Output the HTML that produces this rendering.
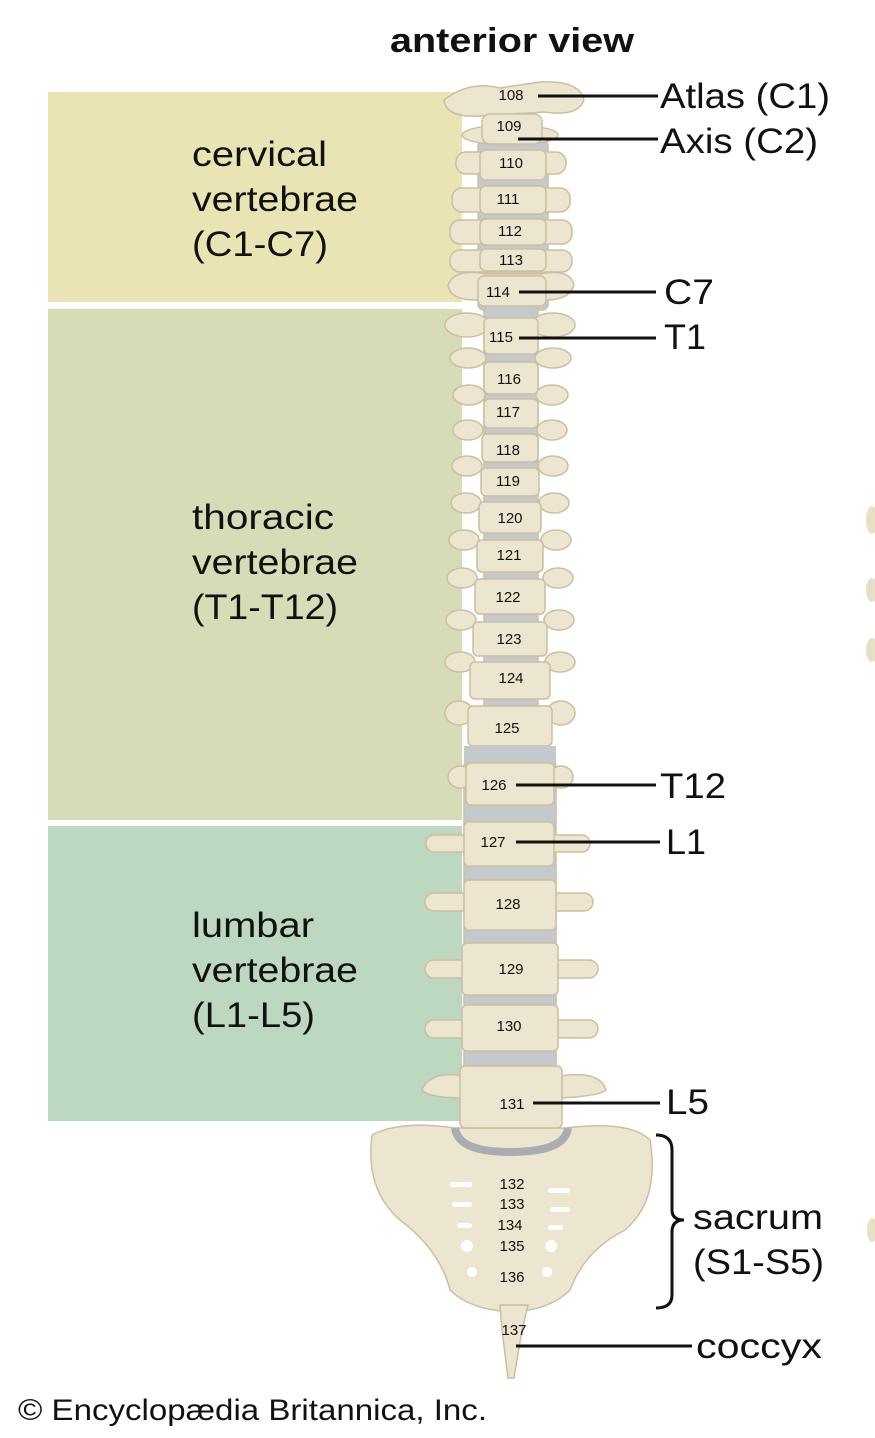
<!DOCTYPE html>
<html><head><meta charset="utf-8"><style>
html,body{margin:0;padding:0;background:#fff;}
svg{display:block;}
text{font-family:"Liberation Sans",sans-serif;}
</style></head><body>
<svg width="875" height="1438" viewBox="0 0 875 1438" xmlns="http://www.w3.org/2000/svg">
<rect x="48" y="92" width="414" height="210" fill="#e8e4b3"/>
<rect x="48" y="309" width="414" height="511" fill="#d5dcb6"/>
<rect x="48" y="826" width="414" height="295" fill="#bdd8c0"/>
<text x="390" y="52" font-size="34" font-weight="bold" textLength="244" lengthAdjust="spacingAndGlyphs" fill="#111">anterior view</text>
<g font-size="35" fill="#111">
<text x="192" y="166" textLength="135" lengthAdjust="spacingAndGlyphs">cervical</text><text x="192" y="211" textLength="166" lengthAdjust="spacingAndGlyphs">vertebrae</text><text x="192" y="256" textLength="136" lengthAdjust="spacingAndGlyphs">(C1-C7)</text>
<text x="192" y="529" textLength="142" lengthAdjust="spacingAndGlyphs">thoracic</text><text x="192" y="574" textLength="166" lengthAdjust="spacingAndGlyphs">vertebrae</text><text x="192" y="619" textLength="146" lengthAdjust="spacingAndGlyphs">(T1-T12)</text>
<text x="192" y="937" textLength="122" lengthAdjust="spacingAndGlyphs">lumbar</text><text x="192" y="982" textLength="166" lengthAdjust="spacingAndGlyphs">vertebrae</text><text x="192" y="1027" textLength="123" lengthAdjust="spacingAndGlyphs">(L1-L5)</text>
<text x="660" y="108" textLength="170" lengthAdjust="spacingAndGlyphs">Atlas (C1)</text><text x="660" y="153" textLength="158" lengthAdjust="spacingAndGlyphs">Axis (C2)</text>
<text x="664" y="304" textLength="50" lengthAdjust="spacingAndGlyphs">C7</text><text x="664" y="349" textLength="42" lengthAdjust="spacingAndGlyphs">T1</text>
<text x="660" y="798" textLength="66" lengthAdjust="spacingAndGlyphs">T12</text><text x="666" y="854" textLength="40" lengthAdjust="spacingAndGlyphs">L1</text><text x="666" y="1114" textLength="43" lengthAdjust="spacingAndGlyphs">L5</text>
<text x="693" y="1229" textLength="130" lengthAdjust="spacingAndGlyphs">sacrum</text><text x="693" y="1274" textLength="131" lengthAdjust="spacingAndGlyphs">(S1-S5)</text>
<text x="696" y="1358" textLength="126" lengthAdjust="spacingAndGlyphs">coccyx</text>
<text x="18" y="1420" font-size="30" textLength="469" lengthAdjust="spacingAndGlyphs">© Encyclopædia Britannica, Inc.</text>
</g>
<g fill="#ece5cf" stroke="#cbbf9f" stroke-width="1.5">
<rect x="478" y="140" width="70" height="170" rx="6" fill="#c4c9cd"/>
<rect x="484" y="305" width="54" height="470" rx="6" fill="#c4c9cd"/>
<rect x="464" y="760" width="92" height="360" rx="6" fill="#c4c9cd"/>
<path d="M444 100 Q470 80 500 88 L540 82 Q580 80 584 100 Q578 117 545 112 L480 116 Q446 118 444 100Z"/>
<ellipse cx="510" cy="135" rx="48" ry="10"/>
<rect x="456" y="152" width="110" height="22" rx="10"/>
<rect x="452" y="188" width="118" height="24" rx="10"/>
<rect x="450" y="220" width="122" height="24" rx="10"/>
<rect x="450" y="250" width="122" height="22" rx="10"/>
<path d="M448 285 Q455 268 485 274 L540 274 Q570 268 574 285 Q570 300 545 300 L475 300 Q450 300 448 285Z"/>
<ellipse cx="467" cy="325" rx="22" ry="12"/><ellipse cx="553" cy="325" rx="22" ry="12"/>
<ellipse cx="468" cy="358" rx="18" ry="10"/><ellipse cx="553" cy="358" rx="18" ry="10"/>
<ellipse cx="469" cy="395" rx="16" ry="10"/><ellipse cx="552" cy="395" rx="16" ry="10"/>
<ellipse cx="468" cy="430" rx="15" ry="10"/><ellipse cx="552" cy="430" rx="15" ry="10"/>
<ellipse cx="467" cy="466" rx="15" ry="10"/><ellipse cx="553" cy="466" rx="15" ry="10"/>
<ellipse cx="466" cy="503" rx="15" ry="10"/><ellipse cx="554" cy="503" rx="15" ry="10"/>
<ellipse cx="464" cy="540" rx="15" ry="10"/><ellipse cx="556" cy="540" rx="15" ry="10"/>
<ellipse cx="462" cy="578" rx="15" ry="10"/><ellipse cx="558" cy="578" rx="15" ry="10"/>
<ellipse cx="461" cy="620" rx="15" ry="10"/><ellipse cx="559" cy="620" rx="15" ry="10"/>
<ellipse cx="460" cy="662" rx="15" ry="10"/><ellipse cx="560" cy="662" rx="15" ry="10"/>
<ellipse cx="459" cy="713" rx="14" ry="12"/><ellipse cx="561" cy="713" rx="14" ry="12"/>
<ellipse cx="460" cy="777" rx="12" ry="11"/><ellipse cx="561" cy="777" rx="12" ry="11"/>
<rect x="426" y="835" width="50" height="17" rx="8"/><rect x="545" y="835" width="45" height="17" rx="8"/>
<rect x="425" y="893" width="50" height="18" rx="9"/><rect x="545" y="893" width="48" height="18" rx="9"/>
<rect x="425" y="960" width="45" height="18" rx="9"/><rect x="550" y="960" width="48" height="18" rx="9"/>
<rect x="425" y="1020" width="45" height="18" rx="9"/><rect x="550" y="1020" width="48" height="18" rx="9"/>
<path d="M422 1090 Q430 1070 465 1076 L560 1076 Q600 1070 606 1090 Q600 1096 560 1098 L465 1098 Q428 1098 422 1090Z"/>
<path d="M372 1135 Q400 1120 455 1128 L565 1128 Q630 1120 650 1140 Q660 1200 625 1230 Q585 1250 570 1290 Q550 1310 512 1312 Q470 1310 450 1290 Q440 1250 400 1220 Q365 1190 372 1135Z"/>
<path d="M500 1305 L528 1305 L522 1330 L514 1378 L508 1378 L502 1330Z"/>
<rect x="482" y="114" width="60" height="30" rx="8"/>
<rect x="480" y="150" width="66" height="30" rx="6"/>
<rect x="480" y="186" width="66" height="28" rx="6"/>
<rect x="480" y="219" width="66" height="26" rx="6"/>
<rect x="480" y="249" width="66" height="22" rx="6"/>
<rect x="478" y="276" width="68" height="30" rx="6"/>
<rect x="484" y="318" width="54" height="36" rx="5"/>
<rect x="484" y="362" width="54" height="32" rx="5"/>
<rect x="484" y="399" width="54" height="29" rx="5"/>
<rect x="482" y="434" width="56" height="28" rx="5"/>
<rect x="481" y="468" width="58" height="28" rx="5"/>
<rect x="479" y="502" width="62" height="31" rx="5"/>
<rect x="477" y="540" width="66" height="32" rx="5"/>
<rect x="475" y="579" width="70" height="35" rx="5"/>
<rect x="473" y="622" width="74" height="34" rx="5"/>
<rect x="470" y="662" width="80" height="37" rx="5"/>
<rect x="468" y="706" width="84" height="40" rx="5"/>
<rect x="466" y="763" width="88" height="42" rx="5"/>
<rect x="464" y="822" width="90" height="44" rx="5"/>
<rect x="464" y="880" width="92" height="50" rx="5"/>
<rect x="462" y="943" width="96" height="52" rx="5"/>
<rect x="462" y="1005" width="96" height="46" rx="5"/>
<rect x="460" y="1066" width="102" height="62" rx="5"/>
</g>
<path d="M455 1128 Q458 1152 510 1152 Q565 1152 568 1128" fill="none" stroke="#a8adb2" stroke-width="8"/>
<path d="M464 746 L556 746 L556 762 L464 762Z" fill="#c4c9cd"/>
<g fill="#fff">
<rect x="450" y="1182" width="22" height="5" rx="2.5"/><rect x="548" y="1188" width="22" height="5" rx="2.5"/>
<rect x="452" y="1202" width="20" height="5" rx="2.5"/><rect x="550" y="1207" width="20" height="5" rx="2.5"/>
<rect x="457" y="1223" width="15" height="5" rx="2.5"/><rect x="548" y="1225" width="15" height="5" rx="2.5"/>
<circle cx="467" cy="1246" r="6"/><circle cx="551" cy="1246" r="6"/>
<circle cx="472" cy="1272" r="5"/><circle cx="547" cy="1272" r="5"/>
</g>
<g fill="#e8e0c6"><ellipse cx="872" cy="520" rx="6" ry="14"/><ellipse cx="872" cy="590" rx="6" ry="12"/><ellipse cx="872" cy="650" rx="6" ry="12"/><ellipse cx="872" cy="1230" rx="5" ry="12"/></g>
<g font-size="15" fill="#111" text-anchor="middle">
<text x="511" y="100">108</text><text x="509" y="131">109</text><text x="511" y="168">110</text>
<text x="508" y="204">111</text><text x="510" y="236">112</text><text x="511" y="265">113</text>
<text x="498" y="297">114</text><text x="501" y="342">115</text><text x="509" y="384">116</text>
<text x="508" y="417">117</text><text x="508" y="455">118</text><text x="508" y="486">119</text>
<text x="510" y="523">120</text><text x="509" y="560">121</text><text x="508" y="602">122</text>
<text x="509" y="644">123</text><text x="511" y="683">124</text><text x="507" y="733">125</text>
<text x="494" y="790">126</text><text x="493" y="847">127</text><text x="508" y="909">128</text>
<text x="511" y="974">129</text><text x="509" y="1031">130</text><text x="512" y="1109">131</text>
<text x="512" y="1189">132</text><text x="512" y="1209">133</text><text x="510" y="1230">134</text>
<text x="512" y="1251">135</text><text x="512" y="1282">136</text><text x="514" y="1335">137</text>
</g>
<g stroke="#111" stroke-width="3" fill="none">
<line x1="538" y1="96" x2="658" y2="96"/>
<line x1="518" y1="139" x2="658" y2="139"/>
<line x1="519" y1="292" x2="656" y2="292"/>
<line x1="519" y1="338" x2="656" y2="338"/>
<line x1="516" y1="785" x2="656" y2="785"/>
<line x1="516" y1="842" x2="660" y2="842"/>
<line x1="533" y1="1103" x2="660" y2="1103"/>
<line x1="516" y1="1346" x2="692" y2="1346"/>
<path d="M656 1135 Q672 1135 672 1150 L672 1210 Q672 1220 684 1220 Q672 1220 672 1232 L672 1295 Q672 1308 656 1308"/>
</g>
</svg>
</body></html>
